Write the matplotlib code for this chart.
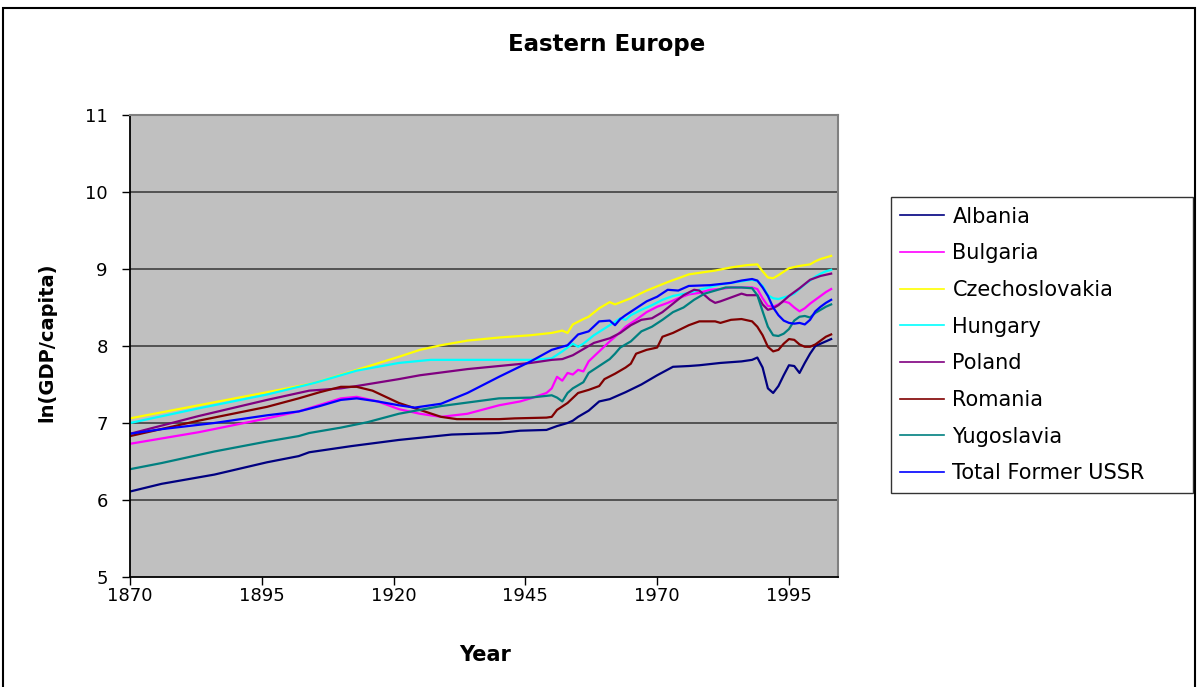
import matplotlib
matplotlib.use("Agg")
import matplotlib.pyplot as plt
from matplotlib.patches import Rectangle

plt.rcParams['font.family'] = ['DejaVu Sans']

# ln(GDP per capita), Eastern Europe, 1870-2003
ALB_YEARS = [1870, 1876, 1886, 1896, 1902, 1904, 1912, 1921, 1931, 1940, 1944, 1949, 1951, 1953,
             1954, 1955, 1957, 1959, 1961, 1963, 1964, 1967, 1970, 1973, 1976, 1978, 1982, 1986,
             1988, 1989, 1990, 1991, 1992, 1993, 1994, 1995, 1996, 1997, 1998, 1999, 2000, 2001,
             2002, 2003]
ALB_VALS = [6.11, 6.21, 6.33, 6.49, 6.57, 6.62, 6.70, 6.78, 6.85, 6.87, 6.90, 6.91, 6.96, 7.00,
            7.03, 7.08, 7.16, 7.28, 7.31, 7.37, 7.40, 7.50, 7.62, 7.73, 7.74, 7.75, 7.78, 7.80,
            7.82, 7.85, 7.72, 7.45, 7.39, 7.48, 7.62, 7.75, 7.74, 7.65, 7.78, 7.90, 8.00, 8.03,
            8.06, 8.09]

BGR_YEARS = [1870, 1883, 1896, 1902, 1910, 1913, 1917, 1921, 1925, 1929, 1934, 1940, 1944, 1946,
             1949, 1950, 1951, 1952, 1953, 1954, 1955, 1956, 1957, 1959, 1961, 1963, 1964, 1966,
             1968, 1970, 1972, 1974, 1976, 1978, 1980, 1982, 1984, 1986, 1988, 1989, 1990, 1991,
             1992, 1993, 1994, 1995, 1996, 1997, 1998, 1999, 2000, 2001, 2002, 2003]
BGR_VALS = [6.73, 6.88, 7.06, 7.15, 7.32, 7.34, 7.28, 7.18, 7.12, 7.08, 7.12, 7.23, 7.28, 7.32,
            7.39, 7.45, 7.60, 7.55, 7.65, 7.63, 7.69, 7.67, 7.80, 7.93, 8.06, 8.18, 8.25, 8.34,
            8.44, 8.51, 8.56, 8.62, 8.67, 8.69, 8.73, 8.74, 8.76, 8.76, 8.76, 8.74, 8.62, 8.52,
            8.51, 8.54, 8.58, 8.56, 8.50, 8.45, 8.49, 8.55, 8.60, 8.65, 8.70, 8.74]

CZE_YEARS = [1870, 1883, 1896, 1905, 1913, 1921, 1925, 1929, 1934, 1940, 1946, 1950, 1952, 1953,
             1954, 1956, 1957, 1959, 1961, 1962, 1965, 1968, 1972, 1976, 1978, 1981, 1984, 1987,
             1989, 1990, 1991, 1992, 1993, 1995, 1997, 1999, 2000, 2001, 2003]
CZE_VALS = [7.06, 7.23, 7.40, 7.52, 7.69, 7.86, 7.95, 8.01, 8.07, 8.11, 8.14, 8.17, 8.20, 8.17,
            8.28, 8.35, 8.38, 8.49, 8.57, 8.54, 8.62, 8.72, 8.83, 8.93, 8.95, 8.98, 9.02, 9.05,
            9.06, 8.97, 8.89, 8.88, 8.92, 9.01, 9.04, 9.06, 9.10, 9.13, 9.17]

HUN_YEARS = [1870, 1883, 1896, 1905, 1913, 1921, 1927, 1940, 1946, 1950, 1952, 1954, 1955, 1956,
             1958, 1961, 1963, 1964, 1965, 1967, 1969, 1971, 1973, 1976, 1978, 1982, 1984, 1986,
             1988, 1989, 1990, 1991, 1992, 1993, 1994, 1995, 1996, 1997, 1998, 1999, 2000, 2001,
             2002, 2003]
HUN_VALS = [7.00, 7.19, 7.37, 7.52, 7.68, 7.78, 7.82, 7.82, 7.82, 7.84, 7.93, 8.03, 7.99, 8.03,
            8.14, 8.27, 8.36, 8.34, 8.40, 8.47, 8.53, 8.60, 8.65, 8.69, 8.73, 8.80, 8.82, 8.84,
            8.86, 8.84, 8.78, 8.66, 8.62, 8.61, 8.63, 8.65, 8.68, 8.74, 8.80, 8.85, 8.90, 8.94,
            8.97, 8.99]

POL_YEARS = [1870, 1883, 1896, 1904, 1910, 1913, 1921, 1925, 1934, 1946, 1950, 1952, 1954, 1956,
             1958, 1961, 1963, 1965, 1967, 1969, 1971, 1973, 1975, 1977, 1978, 1980, 1981, 1982,
             1984, 1986, 1987, 1989, 1990, 1991, 1992, 1993, 1994, 1995, 1997, 1999, 2001, 2003]
POL_VALS = [6.86, 7.09, 7.30, 7.42, 7.45, 7.48, 7.57, 7.62, 7.70, 7.78, 7.82, 7.83, 7.88, 7.96,
            8.04, 8.10, 8.17, 8.27, 8.34, 8.36, 8.44, 8.55, 8.66, 8.73, 8.72, 8.60, 8.56, 8.58,
            8.63, 8.68, 8.66, 8.66, 8.54, 8.47, 8.49, 8.53, 8.59, 8.65, 8.75, 8.86, 8.91, 8.94]

ROU_YEARS = [1870, 1883, 1896, 1902, 1906, 1910, 1913, 1916, 1921, 1925, 1929, 1932, 1940, 1943,
             1949, 1950, 1951, 1953, 1955, 1957, 1959, 1960, 1962, 1964, 1965, 1966, 1968, 1970,
             1971, 1973, 1976, 1978, 1981, 1982, 1984, 1986, 1988, 1989, 1990, 1991, 1992, 1993,
             1994, 1995, 1996, 1997, 1998, 1999, 2000, 2001, 2002, 2003]
ROU_VALS = [6.83, 7.03, 7.21, 7.32, 7.40, 7.47, 7.47, 7.42, 7.26, 7.17, 7.08, 7.05, 7.05, 7.06,
            7.07, 7.08, 7.17, 7.26, 7.39, 7.43, 7.48, 7.57, 7.64, 7.72, 7.77, 7.90, 7.95, 7.98,
            8.12, 8.17, 8.27, 8.32, 8.32, 8.30, 8.34, 8.35, 8.32, 8.25, 8.14, 7.99, 7.93, 7.95,
            8.03, 8.09, 8.08, 8.02, 7.99, 7.99, 8.02, 8.07, 8.12, 8.15]

YUG_YEARS = [1870, 1876, 1886, 1896, 1902, 1904, 1910, 1915, 1921, 1929, 1940, 1946, 1950, 1951,
             1952, 1953, 1954, 1955, 1956, 1957, 1959, 1961, 1962, 1963, 1965, 1967, 1969, 1971,
             1973, 1975, 1977, 1979, 1981, 1983, 1986, 1988, 1989, 1990, 1991, 1992, 1993, 1994,
             1995, 1996, 1997, 1998, 1999, 2000, 2001, 2002, 2003]
YUG_VALS = [6.40, 6.48, 6.63, 6.76, 6.83, 6.87, 6.94, 7.01, 7.12, 7.22, 7.32, 7.33, 7.36, 7.33,
            7.28, 7.39, 7.45, 7.49, 7.53, 7.65, 7.74, 7.83, 7.90, 7.98, 8.06, 8.19, 8.25, 8.34,
            8.44, 8.50, 8.60, 8.68, 8.72, 8.76, 8.76, 8.75, 8.66, 8.45, 8.25, 8.14, 8.13, 8.16,
            8.22, 8.33, 8.38, 8.39, 8.37, 8.43, 8.47, 8.51, 8.54]

SUN_YEARS = [1870, 1876, 1886, 1896, 1902, 1906, 1910, 1913, 1917, 1921, 1924, 1929, 1934, 1940,
             1946, 1950, 1953, 1955, 1957, 1959, 1961, 1962, 1963, 1964, 1966, 1968, 1970, 1972,
             1974, 1976, 1980, 1984, 1986, 1988, 1989, 1990, 1991, 1992, 1993, 1994, 1995, 1996,
             1997, 1998, 1999, 2000, 2001, 2002, 2003]
SUN_VALS = [6.86, 6.92, 7.00, 7.10, 7.15, 7.22, 7.30, 7.32, 7.28, 7.23, 7.20, 7.25, 7.39, 7.60,
            7.80, 7.95, 8.01, 8.15, 8.19, 8.32, 8.33, 8.27, 8.35, 8.40, 8.49, 8.58, 8.64, 8.73,
            8.72, 8.78, 8.79, 8.82, 8.85, 8.87, 8.85, 8.76, 8.65, 8.50, 8.40, 8.33, 8.30, 8.29,
            8.30, 8.28, 8.34, 8.45, 8.51, 8.56, 8.60]

SERIES_NAMES = ["Albania", "Bulgaria", "Czechoslovakia", "Hungary", "Poland", "Romania",
                "Yugoslavia", "Total Former USSR"]
SERIES_COLORS = ["#000080", "#FF00FF", "#FFFF00", "#00FFFF", "#800080", "#800000",
                 "#008080", "#0000FF"]

X_TICKS = [1870, 1895, 1920, 1945, 1970, 1995]
Y_TICKS = [5, 6, 7, 8, 9, 10, 11]

series = [(ALB_YEARS, ALB_VALS), (BGR_YEARS, BGR_VALS), (CZE_YEARS, CZE_VALS),
          (HUN_YEARS, HUN_VALS), (POL_YEARS, POL_VALS), (ROU_YEARS, ROU_VALS),
          (YUG_YEARS, YUG_VALS), (SUN_YEARS, SUN_VALS)]

W, H = 1198, 687
fig = plt.figure(figsize=(W / 100, H / 100), dpi=100)
fig.patch.set_facecolor("white")

ax = fig.add_axes([130 / W, 1 - 577 / H, (838 - 130) / W, (577 - 115) / H])
ax.set_facecolor("#C0C0C0")

for (yrs, vals), name, col in zip(series, SERIES_NAMES, SERIES_COLORS):
    ax.plot(yrs, vals, color=col, lw=1.6, label=name, solid_joinstyle="round")

ax.set_xlim(1870, 2004.3)
ax.set_ylim(5, 11)
ax.set_xticks(X_TICKS)
ax.set_yticks(Y_TICKS)
ax.tick_params(axis="both", labelsize=13, direction="out", length=6, width=1, color="black")
ax.tick_params(axis="y", pad=10)
ax.tick_params(axis="x", pad=1)

for y in Y_TICKS[1:-1]:
    ax.axhline(y, color="#4a4a4a", lw=1.3, zorder=1)

ax.spines["left"].set_color("black")
ax.spines["bottom"].set_color("black")
ax.spines["left"].set_linewidth(1.3)
ax.spines["bottom"].set_linewidth(1.3)
ax.spines["top"].set_color("#808080")
ax.spines["right"].set_color("#808080")
ax.spines["top"].set_linewidth(1.5)
ax.spines["right"].set_linewidth(1.5)

fig.text(607 / W, 1 - 45 / H, "Eastern Europe", ha="center", va="center",
         fontsize=16.5, fontweight="bold")
fig.text(47 / W, 1 - 342 / H, "ln(GDP/capita)", ha="center", va="center",
         rotation=90, fontsize=14, fontweight="bold")
fig.text(485 / W, 1 - 655 / H, "Year", ha="center", va="center",
         fontsize=15, fontweight="bold")

leg = fig.legend(loc="center left",
                 bbox_to_anchor=(891 / W, 1 - 492 / H, (1193 - 891) / W, (492 - 198) / H),
                 mode="expand", fontsize=15, frameon=True, fancybox=False, shadow=False,
                 borderpad=0.45, handlelength=2.1, handletextpad=0.4, labelspacing=0.8,
                 borderaxespad=0)
leg.get_frame().set_edgecolor("black")
leg.get_frame().set_linewidth(1.0)
for h in leg.legend_handles:
    h.set_linewidth(1.2)

fig.patches.append(Rectangle((3 / W, -3 / H), 1192 / W, 682 / H, transform=fig.transFigure,
                             fill=False, edgecolor="black", lw=1.5))

fig.savefig("out.png", dpi=100)
